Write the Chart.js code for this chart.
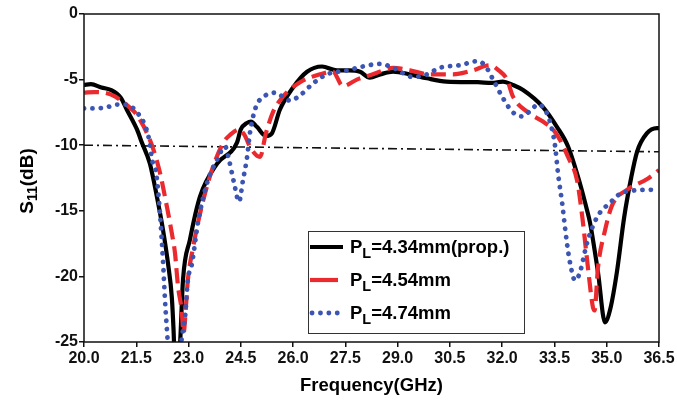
<!DOCTYPE html>
<html>
<head>
<meta charset="utf-8">
<script src="https://cdn.jsdelivr.net/npm/chart.js@4.4.1/dist/chart.umd.min.js"></script>
<style>
  html,body{margin:0;padding:0;background:#fff}
  #wrap{width:677px;height:410px}
</style>
</head>
<body>
<div id="wrap"><canvas id="s11Chart" width="677" height="410"></canvas></div>
<script>
// S11 vs frequency for three PL values

const propFreq = [20.0,20.2,20.5,20.78,21.06,21.23,21.52,21.66,21.89,22.09,22.27,22.41,22.52,22.57,22.62,22.7,22.76,22.84,23.04,23.33,23.82,24.39,24.5,24.68,24.79,24.96,25.22,25.39,25.62,26.0,26.4,26.83,27.26,27.6,27.92,28.2,28.5,28.87,29.35,29.84,30.4,31.3,31.7,32.02,32.3,32.6,33.17,33.57,33.89,34.23,34.43,34.52,34.75,34.95,35.1,35.29,35.5,35.7,35.87,36.15,36.44,36.5];
const propS11  = [-5.4,-5.35,-5.6,-5.8,-6.4,-7.3,-8.8,-9.8,-11.4,-13.9,-16.5,-19.0,-21.6,-24.1,-27.5,-27.5,-25.0,-20.3,-17.2,-13.9,-11.4,-9.8,-8.8,-8.3,-8.2,-8.6,-9.3,-9.1,-7.3,-5.6,-4.4,-4.0,-4.3,-4.3,-4.4,-4.85,-4.6,-4.4,-4.6,-4.9,-5.15,-5.2,-5.25,-5.15,-5.4,-5.8,-7.1,-8.6,-10.1,-12.9,-14.9,-15.9,-19.7,-23.5,-22.5,-19.7,-15.5,-12.5,-10.5,-9.1,-8.7,-8.7];

const p454Freq = [20.0,20.3,20.6,20.9,21.06,21.3,21.52,21.81,22.0,22.18,22.38,22.52,22.61,22.7,22.8,22.86,22.92,22.98,23.13,23.33,23.67,24.0,24.2,24.45,24.6,24.8,25.05,25.22,25.42,25.71,26.2,26.77,27.14,27.43,27.83,28.29,28.87,29.35,29.93,30.59,31.16,31.65,31.9,32.14,32.31,32.74,33.17,33.46,33.66,33.89,34.15,34.3,34.46,34.6,34.65,34.75,34.95,35.15,35.58,36.15,36.5];
const p454S11  = [-6.0,-5.95,-6.0,-6.3,-6.6,-7.1,-7.7,-9.1,-10.4,-12.1,-14.7,-16.7,-18.2,-20.8,-22.5,-24.3,-22.5,-20.3,-17.8,-15.2,-11.9,-9.8,-9.2,-8.8,-9.2,-10.3,-10.9,-9.1,-7.5,-6.3,-5.2,-4.6,-4.4,-5.5,-5.0,-4.6,-4.1,-4.3,-4.6,-4.6,-4.3,-3.9,-4.3,-5.0,-6.3,-7.5,-8.2,-8.8,-9.6,-10.9,-12.7,-15.5,-19.3,-22.3,-22.6,-19.3,-16.5,-14.6,-13.4,-12.6,-11.9];

const p474Freq = [20.0,20.3,20.66,20.95,21.2,21.38,21.52,21.72,21.87,21.95,22.07,22.18,22.27,22.32,22.38,22.45,22.6,22.75,22.81,22.9,22.98,23.1,23.27,23.53,23.82,24.05,24.16,24.3,24.45,24.56,24.68,24.76,24.93,25.16,25.48,25.91,26.2,26.57,26.97,27.55,28.0,28.49,28.87,29.44,29.84,30.21,30.79,31.28,31.5,31.74,32.02,32.31,32.57,32.8,33.03,33.29,33.43,33.52,33.6,33.72,33.86,33.95,34.09,34.23,34.43,34.72,35.09,35.47,36.33,36.5];
const p474S11  = [-7.2,-7.2,-7.1,-6.9,-6.9,-7.1,-7.5,-8.3,-9.6,-11.1,-12.1,-15.2,-19.0,-21.6,-24.1,-26.5,-27.5,-26.0,-24.6,-23.1,-20.3,-19.0,-15.9,-12.9,-11.1,-10.1,-11.1,-12.8,-14.3,-12.7,-10.9,-9.1,-7.1,-6.3,-6.0,-6.6,-6.2,-5.3,-4.6,-4.3,-4.0,-3.8,-4.1,-4.8,-4.6,-4.1,-3.9,-3.6,-3.9,-5.0,-6.4,-7.5,-7.8,-7.4,-6.9,-7.6,-8.8,-10.1,-12.1,-14.4,-17.5,-19.0,-20.3,-19.7,-17.5,-15.5,-14.4,-13.6,-13.4,-13.4];

const refFreq = [20.0,36.5];
const refS11  = [-10.0,-10.5];

const xMin = 20.0, xMax = 36.5, xStep = 1.5;
const yMin = -25, yMax = 0, yStep = 5;

const legendLabels = [
  {main:'P', sub:'L', rest:'=4.34mm(prop.)'},
  {main:'P', sub:'L', rest:'=4.54mm'},
  {main:'P', sub:'L', rest:'=4.74mm'}
];

const FONT = '"Liberation Sans", Arial, sans-serif';
const colBlack = '#000000', colRed = '#ea2a2e', colBlue = '#3c55b2';

function pts(xs, ys){ return xs.map((x,i)=>({x:x, y:ys[i]})); }

// axis titles with subscripts + custom legend box + frame
const decorPlugin = {
  id: 'decor',
  afterDraw(chart){
    const {ctx, chartArea:a} = chart;
    ctx.save();
    // frame
    ctx.strokeStyle = '#111';
    ctx.lineWidth = 1.5;
    ctx.strokeRect(a.left, a.top, a.right - a.left, a.bottom - a.top);

    ctx.fillStyle = '#000';
    // x title
    ctx.font = 'bold 18.5px ' + FONT;
    ctx.textAlign = 'center';
    ctx.textBaseline = 'middle';
    ctx.fillText('Frequency(GHz)', (a.left + a.right)/2, 386);

    // y title, rotated
    ctx.save();
    ctx.translate(26, 181);
    ctx.rotate(-Math.PI/2);
    ctx.textAlign = 'left';
    ctx.textBaseline = 'alphabetic';
    const bigF = 'bold 19px ' + FONT, subF = 'bold 14px ' + FONT;
    ctx.font = bigF;
    const wS = ctx.measureText('S').width;
    ctx.font = subF;
    const w11 = ctx.measureText('11').width;
    ctx.font = bigF;
    const wRest = ctx.measureText('(dB)').width;
    let x0 = -(wS + w11 + wRest)/2;
    ctx.fillText('S', x0, 7);
    ctx.font = subF;
    ctx.fillText('11', x0 + wS, 11);
    ctx.font = bigF;
    ctx.fillText('(dB)', x0 + wS + w11, 7);
    ctx.restore();

    // legend box
    const bx = 308, by = 231, bw = 216, bh = 102;
    ctx.fillStyle = '#fff';
    ctx.fillRect(bx, by, bw, bh);
    ctx.strokeStyle = '#333';
    ctx.lineWidth = 1;
    ctx.strokeRect(bx + 0.5, by + 0.5, bw, bh);

    const rows = [247, 280, 313];
    const ds = chart.data.datasets;
    rows.forEach((ry, i) => {
      const d = ds[i];
      ctx.save();
      ctx.strokeStyle = d.borderColor;
      ctx.lineWidth = d.borderWidth;
      ctx.lineCap = d.borderCapStyle || 'butt';
      if (i === 2) ctx.setLineDash(d.borderDash); else ctx.setLineDash([]);
      ctx.beginPath();
      ctx.moveTo(i === 2 ? 312 : 310, ry);
      ctx.lineTo(i === 1 ? 338 : 343, ry);
      ctx.stroke();
      ctx.restore();

      const lab = legendLabels[i];
      ctx.fillStyle = '#000';
      ctx.textAlign = 'left';
      ctx.textBaseline = 'alphabetic';
      const mainF = 'bold 18.5px ' + FONT, sF = 'bold 14.5px ' + FONT;
      let tx = 350, base = ry + 6;
      ctx.font = mainF;
      ctx.fillText(lab.main, tx, base);
      tx += ctx.measureText(lab.main).width;
      ctx.font = sF;
      ctx.fillText(lab.sub, tx, base + 5);
      tx += ctx.measureText(lab.sub).width;
      ctx.font = mainF;
      ctx.fillText(lab.rest, tx, base);
    });
    ctx.restore();
  }
};

new Chart(document.getElementById('s11Chart').getContext('2d'), {
  type: 'line',
  data: {
    datasets: [
      {label:'PL=4.34mm(prop.)', data:pts(propFreq, propS11), borderColor:colBlack, borderWidth:4.2,
       cubicInterpolationMode:'monotone', pointRadius:0, order:2},
      {label:'PL=4.54mm', data:pts(p454Freq, p454S11), borderColor:colRed, borderWidth:4.2,
       borderDash:[15,7], cubicInterpolationMode:'monotone', pointRadius:0, order:1},
      {label:'PL=4.74mm', data:pts(p474Freq, p474S11), borderColor:colBlue, borderWidth:4.8,
       borderDash:[0.1,8.3], borderCapStyle:'round', cubicInterpolationMode:'monotone', pointRadius:0, order:0},
      {label:'-10 dB', data:pts(refFreq, refS11), borderColor:'#111', borderWidth:1.6,
       borderDash:[9,4,2,4], pointRadius:0, order:3}
    ]
  },
  options: {
    responsive: false,
    animation: false,
    layout: {padding:{left:0, top:14, right:18, bottom:0}},
    plugins: {legend:{display:false}, tooltip:{enabled:false}},
    scales: {
      x: {
        type: 'linear', min: xMin, max: xMax,
        afterFit: s => { s.height = 68; },
        afterBuildTicks: s => { s.ticks = []; for (let v = xMin; v <= xMax + 1e-9; v += xStep) s.ticks.push({value: +v.toFixed(1)}); },
        ticks: {color:'#111', font:{family:FONT, size:16, weight:'bold'}, padding:2, maxRotation:0, autoSkip:false,
                callback: v => Number(v).toFixed(1)},
        grid: {display:true, drawOnChartArea:false, drawTicks:true, tickLength:5, color:'#111', lineWidth:1.5},
        border: {display:false}
      },
      y: {
        min: yMin, max: yMax,
        afterFit: s => { s.width = 84; },
        ticks: {stepSize: yStep, color:'#111', font:{family:FONT, size:16, weight:'bold'}, padding:1},
        grid: {display:true, drawOnChartArea:false, drawTicks:true, tickLength:5, color:'#111', lineWidth:1.5},
        border: {display:false}
      }
    }
  },
  plugins: [decorPlugin]
});
</script>
</body>
</html>
